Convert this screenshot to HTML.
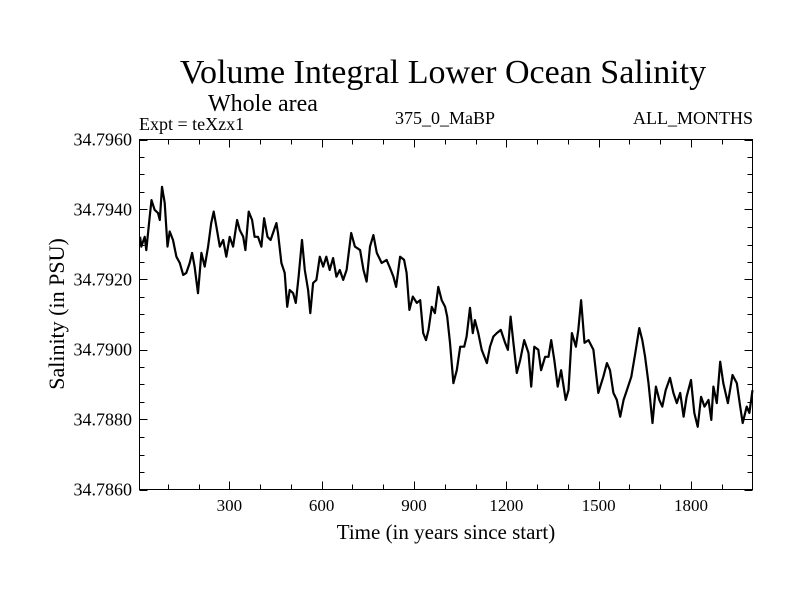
<!DOCTYPE html>
<html><head><meta charset="utf-8"><style>
body{margin:0;background:#fff;}
svg{display:block;font-family:"Liberation Serif",serif;}
</style></head><body>
<svg id="chart" width="800" height="600" viewBox="0 0 800 600">
<text x="443" y="83" font-size="34" text-anchor="middle">Volume Integral Lower Ocean Salinity</text>
<text x="263" y="111" font-size="24" text-anchor="middle">Whole area</text>
<text x="139" y="130" font-size="18">Expt = teXzx1</text>
<text x="445" y="124" font-size="18" text-anchor="middle">375_0_MaBP</text>
<text x="753" y="124" font-size="18" text-anchor="end">ALL_MONTHS</text>
<text x="446" y="539" font-size="21" text-anchor="middle">Time (in years since start)</text>
<text transform="translate(64,314) rotate(-90)" font-size="22" text-anchor="middle">Salinity (in PSU)</text>
<g id="ticks"></g>
<g id="labels"></g>
<path id="series" fill="none" stroke="#000" stroke-width="2.2" stroke-linejoin="round"/>
<rect x="139.5" y="139.5" width="613" height="350" fill="none" stroke="#000" stroke-width="1"/>
</svg>
<script>
const years=[10,14,25,30,41,47,57,68,74,81,90,99,106,117,128,139,150,160,171,179,187,198,209,220,231,241,249,258,269,280,290,301,312,325,334,345,352,363,374,382,393,404,413,424,434,445,453,458,469,480,488,496,507,516,525,536,545,556,563,572,583,594,605,615,626,637,648,659,670,681,696,708,725,736,746,757,768,779,795,811,822,833,842,855,868,876,885,896,909,920,930,939,947,958,968,979,990,1001,1008,1017,1028,1039,1050,1063,1071,1082,1091,1098,1109,1120,1137,1147,1158,1169,1182,1196,1205,1214,1223,1234,1245,1258,1272,1281,1291,1304,1313,1326,1337,1346,1356,1367,1378,1393,1402,1413,1426,1434,1443,1454,1467,1483,1499,1515,1527,1537,1548,1559,1570,1581,1592,1606,1619,1632,1642,1651,1662,1675,1686,1697,1707,1718,1732,1743,1754,1765,1776,1786,1800,1811,1822,1833,1844,1857,1866,1873,1884,1895,1905,1920,1935,1949,1960,1968,1981,1990,2000];
const salinity=[34.79322,34.79294,34.79322,34.79284,34.79379,34.79427,34.79399,34.7939,34.7937,34.79465,34.79419,34.79294,34.79337,34.79313,34.79265,34.79247,34.79213,34.79219,34.79247,34.79276,34.79237,34.79161,34.79276,34.79237,34.79294,34.79361,34.79394,34.79351,34.79294,34.79313,34.79265,34.79322,34.79294,34.7937,34.79341,34.79322,34.79284,34.79394,34.7937,34.79322,34.79322,34.79294,34.79375,34.79322,34.79313,34.79341,34.79361,34.79333,34.79247,34.79219,34.79122,34.7917,34.79161,34.79133,34.79208,34.79313,34.79227,34.7917,34.79104,34.7919,34.79199,34.79265,34.79237,34.79265,34.79227,34.79261,34.79208,34.79227,34.79199,34.79227,34.79333,34.79294,34.79284,34.79227,34.79194,34.79294,34.79327,34.79276,34.79247,34.79256,34.79233,34.79208,34.79179,34.79265,34.79256,34.79219,34.79113,34.79151,34.79133,34.79141,34.79047,34.79027,34.79056,34.79122,34.79104,34.79179,34.79141,34.79122,34.79094,34.79019,34.78904,34.78941,34.79008,34.79008,34.79037,34.79119,34.79047,34.79084,34.79047,34.78999,34.78961,34.79008,34.79037,34.79047,34.79056,34.79019,34.78999,34.79094,34.79019,34.78933,34.7897,34.79027,34.7899,34.78894,34.79008,34.78999,34.78941,34.78979,34.78979,34.79027,34.7897,34.78894,34.78941,34.78856,34.78884,34.79047,34.79008,34.79056,34.79141,34.79019,34.79027,34.78999,34.78876,34.78922,34.78961,34.78941,34.78876,34.78856,34.78808,34.78856,34.78884,34.78922,34.7899,34.79061,34.79027,34.78979,34.78904,34.7879,34.78894,34.78856,34.78837,34.78884,34.78919,34.78876,34.78847,34.78876,34.78808,34.78865,34.78913,34.78819,34.78779,34.78865,34.78837,34.78856,34.78799,34.78894,34.78847,34.78965,34.78904,34.78847,34.78927,34.78904,34.78837,34.7879,34.78837,34.78819,34.78884];
const xTickLabels=["300","600","900","1200","1500","1800"];
const yTickLabels=["34.7860","34.7880","34.7900","34.7920","34.7940","34.7960"];

const X0=139.5,X1=752.5,Y0=489.5,Y1=139.5;
const xMin=8,xMax=2000,yMin=34.786,yMax=34.796;
function sx(v){return X0+(v-xMin)/(xMax-xMin)*(X1-X0);}
function sy(v){return Y0-(v-yMin)/(yMax-yMin)*(Y0-Y1);}
const NS="http://www.w3.org/2000/svg";
let d="";
for(let i=0;i<years.length;i++){d+=(i?"L":"M")+sx(years[i]).toFixed(1)+","+sy(salinity[i]).toFixed(1);}
document.getElementById("series").setAttribute("d",d);
const tg=document.getElementById("ticks"),lg=document.getElementById("labels");
function line(x1,y1,x2,y2){const l=document.createElementNS(NS,"line");
l.setAttribute("x1",x1);l.setAttribute("y1",y1);l.setAttribute("x2",x2);l.setAttribute("y2",y2);
l.setAttribute("stroke","#000");l.setAttribute("stroke-width","1");


tg.appendChild(l);}
for(let yr=100;yr<xMax;yr+=100){const x=Math.round(sx(yr))+0.5;const L=(yr%300===0)?8:5;line(x,Y0,x,Y0-L);line(x,Y1,x,Y1+L);}
for(let k=0;k<=20;k++){const v=yMin+k*0.0005;const y=Math.round(sy(v))+0.5;const L=(k%4===0)?8:5;line(X0,y,X0+L,y);line(X1,y,X1-L,y);}
xTickLabels.forEach(s=>{const t=document.createElementNS(NS,"text");
t.setAttribute("x",sx(+s));t.setAttribute("y",511);t.setAttribute("font-size","17");t.setAttribute("text-anchor","middle");t.textContent=s;


lg.appendChild(t);});
yTickLabels.forEach(s=>{const t=document.createElementNS(NS,"text");
t.setAttribute("x",132);t.setAttribute("y",sy(+s)+6);t.setAttribute("font-size","18");t.setAttribute("text-anchor","end");t.textContent=s;


lg.appendChild(t);});
</script>
</body></html>
